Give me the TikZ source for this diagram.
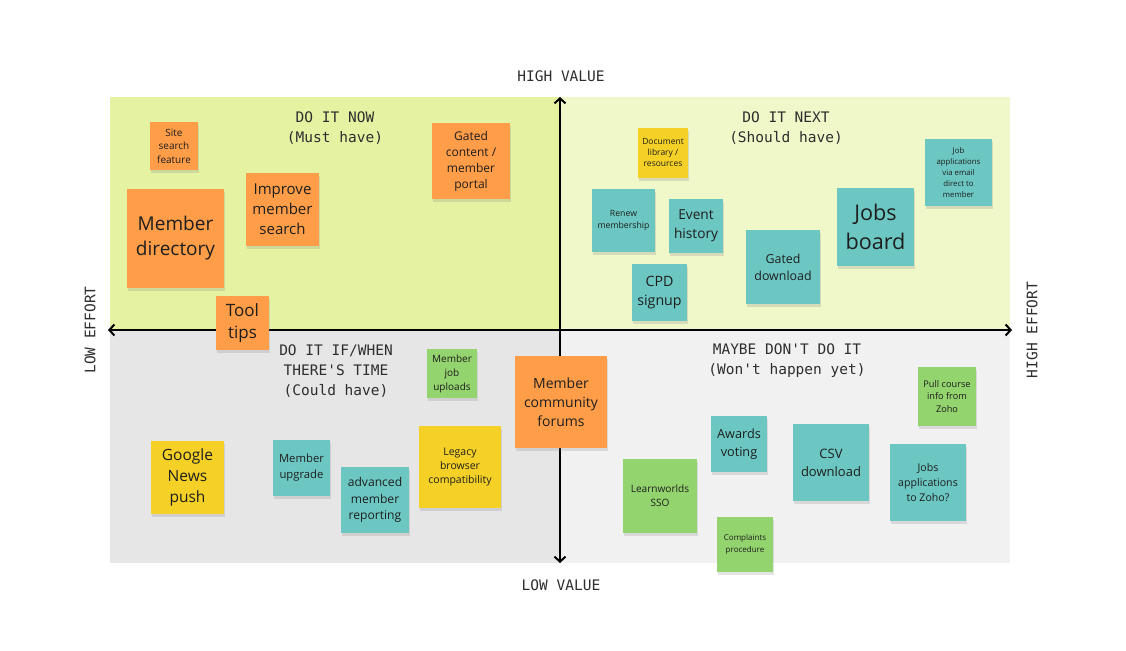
\documentclass[tikz,border=0pt]{standalone}
\usepackage{fontspec}
\setmainfont{Open Sans}
\newfontfamily\monolab{DejaVu Sans Mono}
\usetikzlibrary{arrows.meta, shadows}
\definecolor{nowgreen}{HTML}{E5F2A2}
\definecolor{nextgreen}{HTML}{F0F7C8}
\definecolor{whengray}{HTML}{E6E6E6}
\definecolor{maybegray}{HTML}{F1F1F1}
\definecolor{noteorange}{HTML}{FF9D48}
\definecolor{noteyellow}{HTML}{F5D128}
\definecolor{noteteal}{HTML}{6CC7C2}
\definecolor{notegreen}{HTML}{93D46E}
\definecolor{inkdark}{HTML}{1E1E1E}
\definecolor{labelgray}{HTML}{2E2E2E}
\newcommand{\nsize}[2]{\fontsize{#1}{#2}\selectfont}

\begin{document}
\begin{tikzpicture}[x=1pt, y=-1pt, >={Straight Barb[length=5pt, width=11pt]},
  note/.style={inner sep=1pt, align=center, text=inkdark,
    drop shadow={shadow xshift=0.5pt, shadow yshift=-3pt, opacity=0.22}},
  quadlabel/.style={text=labelgray, align=center, font=\monolab\nsize{14.5}{20}},
  axislabel/.style={text=labelgray, font=\monolab\nsize{14.5}{18}},
  axis/.style={black, line width=2pt, <->}]

% Background
\fill[white] (0,0) rectangle (1126,650);
\useasboundingbox (0,0) rectangle (1126,650);

% --- Quadrants ---
\fill[nowgreen] (110,97) rectangle (560,330);
\fill[nextgreen] (560,97) rectangle (1010,330);
\fill[whengray] (110,330) rectangle (560,563);
\fill[maybegray] (560,330) rectangle (1010,563);

% Quadrant titles
\node[quadlabel] (nowtitle) at (335,128) {DO IT NOW\\(Must have)};
\node[quadlabel] (nexttitle) at (786,128) {DO IT NEXT\\(Should have)};
\node[quadlabel] (whentitle) at (336,371) {DO IT IF/WHEN\\THERE'S TIME\\(Could have)};
\node[quadlabel] (maybetitle) at (787,361) {MAYBE DON'T DO IT\\(Won't happen yet)};

% --- Axes ---
\coordinate (vtop) at (560,97);
\coordinate (vbottom) at (560,563);
\coordinate (hleft) at (108,330);
\coordinate (hright) at (1012,330);
\draw[axis] (vbottom) -- (vtop);
\draw[axis] (hleft) -- (hright);

% Axis labels
\node[axislabel] (highvalue) at (561,76) {HIGH VALUE};
\node[axislabel] (lowvalue) at (561,585) {LOW VALUE};
\node[axislabel, rotate=90] (loweffort) at (90,330) {LOW EFFORT};
\node[axislabel, rotate=90] (higheffort) at (1032,330) {HIGH EFFORT};

% --- Do it now ---
\node[note, fill=noteorange, minimum width=48, minimum height=48, font=\nsize{10}{13.5}]
  (sitesearch) at (174,146) {Site\\search\\feature};
\node[note, fill=noteorange, minimum width=97, minimum height=99, font=\nsize{19}{25}]
  (memberdir) at (175.5,238.5) {Member\\directory};
\node[note, fill=noteorange, minimum width=73, minimum height=73, font=\nsize{15}{20}]
  (improvesearch) at (282.5,209.5) {Improve\\member\\search};
\node[note, fill=noteorange, minimum width=78, minimum height=76, font=\nsize{12}{16}]
  (gatedcontent) at (471,161) {Gated\\content /\\member\\portal};

% --- Do it next ---
\node[note, fill=noteyellow, minimum width=50, minimum height=50, font=\nsize{8.5}{11}]
  (doclibrary) at (663,153) {Document\\library /\\resources};
\node[note, fill=noteteal, minimum width=63, minimum height=63, font=\nsize{8.7}{11.3}]
  (renew) at (623.5,220.5) {Renew\\membership};
\node[note, fill=noteteal, minimum width=54, minimum height=54, font=\nsize{13.7}{19}]
  (eventhistory) at (696,226) {Event\\history};
\node[note, fill=noteteal, minimum width=55, minimum height=57, font=\nsize{14.2}{19.3}]
  (cpdsignup) at (659.5,292.5) {CPD\\signup};
\node[note, fill=noteteal, minimum width=74, minimum height=74, font=\nsize{12.4}{17}]
  (gateddownload) at (783,267) {Gated\\download};
\node[note, fill=noteteal, minimum width=77, minimum height=78, font=\nsize{21.6}{29}]
  (jobsboard) at (875.5,227) {Jobs\\board};
\node[note, fill=noteteal, minimum width=67, minimum height=67, font=\nsize{7.8}{10.8}]
  (jobemail) at (958.5,172.5) {Job\\applications\\via email\\direct to\\member};

% --- Do it if/when there's time ---
\node[note, fill=noteyellow, minimum width=73, minimum height=73, font=\nsize{15.5}{20.7}]
  (googlenews) at (187.5,477.5) {Google\\News\\push};
\node[note, fill=noteteal, minimum width=57, minimum height=56, font=\nsize{11.3}{16}]
  (memberupgrade) at (301.5,468) {Member\\upgrade};
\node[note, fill=noteteal, minimum width=68, minimum height=66, font=\nsize{12.1}{16.5}]
  (advreporting) at (375,500) {advanced\\member\\reporting};
\node[note, fill=noteyellow, minimum width=82, minimum height=82, font=\nsize{10.5}{14.3}]
  (legacy) at (460,467) {Legacy\\browser\\compatibility};
\node[note, fill=notegreen, minimum width=50, minimum height=49, font=\nsize{10}{14}]
  (jobuploads) at (452,373.5) {Member\\job\\uploads};

% Tool tips and forums sit over the axes
\node[note, fill=noteorange, minimum width=53, minimum height=54, font=\nsize{17}{22}]
  (tooltips) at (242.5,323) {Tool\\tips};
\node[note, fill=noteorange, minimum width=92, minimum height=92, font=\nsize{14}{19}]
  (forums) at (561,402) {Member\\community\\forums};

% --- Maybe don't do it ---
\node[note, fill=notegreen, minimum width=74, minimum height=74, font=\nsize{10.1}{13.7}]
  (learnworlds) at (660,496) {Learnworlds\\SSO};
\node[note, fill=noteteal, minimum width=56, minimum height=56, font=\nsize{12.7}{18}]
  (awards) at (739,444) {Awards\\voting};
\node[note, fill=notegreen, minimum width=56, minimum height=55, font=\nsize{8}{11.7}]
  (complaints) at (745,544.5) {Complaints\\procedure};
\node[note, fill=noteteal, minimum width=76, minimum height=77, font=\nsize{13}{18}]
  (csvdownload) at (831,462.5) {CSV\\download};
\node[note, fill=noteteal, minimum width=76, minimum height=77, font=\nsize{10.6}{15}]
  (jobszoho) at (928,482.5) {Jobs\\applications\\to Zoho?};
\node[note, fill=notegreen, minimum width=58, minimum height=59, font=\nsize{9.2}{12.7}]
  (pullcourse) at (947,396.5) {Pull course\\info from\\Zoho};

\end{tikzpicture}
\end{document}
